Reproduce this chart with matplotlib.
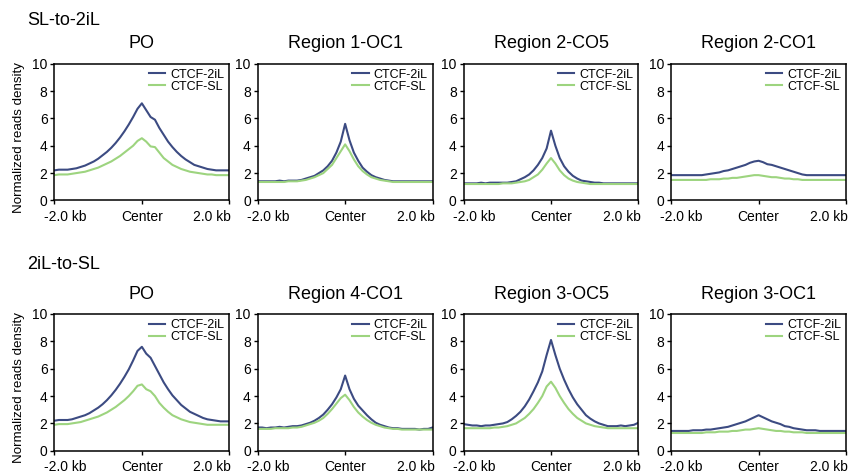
import matplotlib

matplotlib.use("agg")
import matplotlib.pyplot as plt
import numpy as np
from matplotlib.transforms import ScaledTranslation

plt.rcParams["font.family"] = ["Liberation Sans", "DejaVu Sans"]

# bin centres, kb from the CTCF summit
positions_kb = np.linspace(-2.0, 2.0, 41)

# SL-to-2iL
po_a_2il = [2.2, 2.25, 2.25, 2.25, 2.3, 2.35, 2.45, 2.55, 2.7, 2.85, 3.05, 3.3, 3.55, 3.85, 4.2, 4.6, 5.05, 5.55, 6.1, 6.7, 7.1,
            6.6, 6.1, 5.9, 5.3, 4.8, 4.3, 3.9, 3.55, 3.25, 3.0, 2.8, 2.6, 2.5, 2.4, 2.3, 2.25, 2.2, 2.2, 2.2, 2.2]
po_a_sl = [1.85, 1.9, 1.9, 1.9, 1.95, 2.0, 2.05, 2.1, 2.2, 2.3, 2.4, 2.55, 2.7, 2.85, 3.05, 3.25, 3.5, 3.75, 4.0, 4.35, 4.55,
           4.3, 3.95, 3.9, 3.5, 3.1, 2.85, 2.6, 2.45, 2.3, 2.2, 2.1, 2.05, 2.0, 1.95, 1.9, 1.9, 1.85, 1.85, 1.85, 1.85]
r1_oc1_2il = [1.4, 1.4, 1.4, 1.4, 1.4, 1.45, 1.4, 1.45, 1.45, 1.45, 1.5, 1.6, 1.7, 1.8, 2.0, 2.2, 2.5, 2.9, 3.5, 4.3, 5.6,
              4.4, 3.5, 2.9, 2.4, 2.1, 1.85, 1.7, 1.6, 1.5, 1.45, 1.4, 1.4, 1.4, 1.4, 1.4, 1.4, 1.4, 1.4, 1.4, 1.4]
r1_oc1_sl = [1.35, 1.35, 1.35, 1.35, 1.35, 1.35, 1.35, 1.4, 1.4, 1.4, 1.45, 1.5, 1.6, 1.7, 1.85, 2.0, 2.3, 2.6, 3.1, 3.6, 4.1,
             3.6, 3.0, 2.5, 2.15, 1.9, 1.7, 1.6, 1.5, 1.45, 1.4, 1.35, 1.35, 1.35, 1.35, 1.35, 1.35, 1.35, 1.35, 1.35, 1.35]
r2_co5_2il = [1.25, 1.25, 1.25, 1.25, 1.3, 1.25, 1.3, 1.3, 1.3, 1.3, 1.3, 1.35, 1.4, 1.55, 1.7, 1.9, 2.2, 2.6, 3.1, 3.8, 5.1,
              4.0, 3.1, 2.5, 2.1, 1.8, 1.6, 1.45, 1.4, 1.35, 1.3, 1.3, 1.25, 1.25, 1.25, 1.25, 1.25, 1.25, 1.25, 1.25, 1.25]
r2_co5_sl = [1.2, 1.2, 1.2, 1.2, 1.2, 1.2, 1.2, 1.2, 1.2, 1.25, 1.25, 1.25, 1.3, 1.35, 1.4, 1.5, 1.7, 1.9, 2.25, 2.7, 3.1,
             2.7, 2.2, 1.85, 1.6, 1.45, 1.35, 1.3, 1.25, 1.2, 1.2, 1.2, 1.2, 1.2, 1.2, 1.2, 1.2, 1.2, 1.2, 1.2, 1.2]
r2_co1_2il = [1.85, 1.85, 1.85, 1.85, 1.85, 1.85, 1.85, 1.85, 1.9, 1.95, 2.0, 2.05, 2.15, 2.2, 2.3, 2.4, 2.5, 2.6, 2.75, 2.85, 2.9,
              2.8, 2.65, 2.6, 2.5, 2.4, 2.3, 2.2, 2.1, 2.0, 1.9, 1.85, 1.85, 1.85, 1.85, 1.85, 1.85, 1.85, 1.85, 1.85, 1.85]
r2_co1_sl = [1.5, 1.5, 1.5, 1.5, 1.5, 1.5, 1.5, 1.5, 1.5, 1.55, 1.55, 1.55, 1.6, 1.6, 1.65, 1.65, 1.7, 1.75, 1.8, 1.85, 1.85,
             1.8, 1.75, 1.7, 1.7, 1.65, 1.6, 1.6, 1.55, 1.55, 1.5, 1.5, 1.5, 1.5, 1.5, 1.5, 1.5, 1.5, 1.5, 1.5, 1.5]

# 2iL-to-SL
po_b_2il = [2.2, 2.25, 2.25, 2.25, 2.3, 2.4, 2.5, 2.6, 2.75, 2.95, 3.15, 3.4, 3.7, 4.05, 4.45, 4.9, 5.4, 5.95, 6.6, 7.3, 7.6,
            7.1, 6.8, 6.2, 5.6, 5.0, 4.5, 4.05, 3.7, 3.35, 3.1, 2.85, 2.7, 2.55, 2.4, 2.3, 2.25, 2.2, 2.15, 2.15, 2.15]
po_b_sl = [1.9, 1.95, 1.95, 1.95, 2.0, 2.05, 2.1, 2.2, 2.3, 2.4, 2.5, 2.65, 2.8, 3.0, 3.2, 3.45, 3.7, 4.0, 4.35, 4.75, 4.85,
           4.5, 4.35, 4.0, 3.5, 3.15, 2.85, 2.6, 2.45, 2.3, 2.2, 2.1, 2.05, 2.0, 1.95, 1.9, 1.9, 1.9, 1.9, 1.9, 1.9]
r4_co1_2il = [1.7, 1.7, 1.65, 1.7, 1.7, 1.75, 1.7, 1.75, 1.8, 1.8, 1.85, 1.95, 2.05, 2.2, 2.4, 2.65, 3.0, 3.4, 3.9, 4.5, 5.5,
              4.5, 3.8, 3.3, 2.95, 2.6, 2.3, 2.05, 1.9, 1.8, 1.7, 1.65, 1.65, 1.6, 1.6, 1.6, 1.6, 1.55, 1.6, 1.6, 1.7]
r4_co1_sl = [1.6, 1.6, 1.6, 1.6, 1.65, 1.65, 1.65, 1.65, 1.7, 1.7, 1.75, 1.85, 1.95, 2.05, 2.2, 2.4, 2.7, 3.05, 3.45, 3.85, 4.1,
             3.7, 3.2, 2.8, 2.5, 2.25, 2.05, 1.9, 1.8, 1.7, 1.65, 1.6, 1.6, 1.55, 1.55, 1.55, 1.55, 1.55, 1.55, 1.55, 1.55]
r3_oc5_2il = [1.95, 1.9, 1.85, 1.85, 1.8, 1.85, 1.85, 1.9, 1.95, 2.0, 2.1, 2.3, 2.55, 2.85, 3.25, 3.75, 4.35, 5.0, 5.8, 7.0, 8.1,
              7.0, 6.0, 5.2, 4.5, 3.9, 3.4, 3.0, 2.6, 2.35, 2.15, 2.0, 1.9, 1.8, 1.8, 1.8, 1.85, 1.8, 1.85, 1.9, 2.05]
r3_oc5_sl = [1.65, 1.65, 1.65, 1.65, 1.65, 1.65, 1.65, 1.7, 1.7, 1.75, 1.8, 1.9, 2.0, 2.2, 2.4, 2.7, 3.05, 3.5, 4.0, 4.7, 5.05,
             4.6, 4.0, 3.5, 3.05, 2.7, 2.4, 2.2, 2.0, 1.9, 1.8, 1.75, 1.7, 1.65, 1.65, 1.65, 1.65, 1.65, 1.65, 1.65, 1.65]
r3_oc1_2il = [1.45, 1.45, 1.45, 1.45, 1.45, 1.5, 1.5, 1.5, 1.55, 1.55, 1.6, 1.65, 1.7, 1.75, 1.85, 1.95, 2.05, 2.15, 2.3, 2.45, 2.6,
              2.45, 2.3, 2.15, 2.05, 1.95, 1.8, 1.75, 1.65, 1.6, 1.55, 1.5, 1.5, 1.5, 1.45, 1.45, 1.45, 1.45, 1.45, 1.45, 1.45]
r3_oc1_sl = [1.3, 1.3, 1.3, 1.3, 1.3, 1.3, 1.3, 1.3, 1.35, 1.35, 1.35, 1.4, 1.4, 1.4, 1.45, 1.45, 1.5, 1.55, 1.55, 1.6, 1.65,
             1.6, 1.55, 1.5, 1.45, 1.45, 1.4, 1.4, 1.35, 1.35, 1.35, 1.3, 1.3, 1.3, 1.3, 1.3, 1.3, 1.3, 1.3, 1.3, 1.3]

row_labels = ["SL-to-2iL", "2iL-to-SL"]
panel_titles = [["PO", "Region 1-OC1", "Region 2-CO5", "Region 2-CO1"],
                ["PO", "Region 4-CO1", "Region 3-OC5", "Region 3-OC1"]]
profiles = [[(po_a_2il, po_a_sl), (r1_oc1_2il, r1_oc1_sl), (r2_co5_2il, r2_co5_sl), (r2_co1_2il, r2_co1_sl)],
            [(po_b_2il, po_b_sl), (r4_co1_2il, r4_co1_sl), (r3_oc5_2il, r3_oc5_sl), (r3_oc1_2il, r3_oc1_sl)]]

COL_2IL = "#3c4b82"
COL_SL = "#9dd47f"

fig = plt.figure(figsize=(8.65, 4.75), dpi=100)
lefts = [0.063, 0.298, 0.536, 0.776]
bottoms = [0.578, 0.051]
width, height = 0.202, 0.288

for r in range(2):
    for c in range(4):
        ax = fig.add_axes([lefts[c], bottoms[r], width, height])
        y2il, ysl = profiles[r][c]
        ax.plot(positions_kb, y2il, color=COL_2IL, lw=1.5, label="CTCF-2iL")
        ax.plot(positions_kb, ysl, color=COL_SL, lw=1.5, label="CTCF-SL")
        ax.set_xlim(-2, 2)
        ax.set_ylim(0, 10)
        ax.set_yticks([0, 2, 4, 6, 8, 10])
        ax.set_xticks([-2, 0, 2])
        ax.set_xticklabels(["-2.0 kb", "Center", "2.0 kb"])
        ax.tick_params(labelsize=10, length=3, width=1.0, pad=2)
        ax.tick_params(axis="x", pad=4)
        lbls = ax.get_xticklabels()
        lbls[0].set_transform(lbls[0].get_transform() + ScaledTranslation(7.5 / 72, 0, fig.dpi_scale_trans))
        lbls[2].set_horizontalalignment("right")
        lbls[2].set_transform(lbls[2].get_transform() + ScaledTranslation(1.5 / 72, 0, fig.dpi_scale_trans))
        for s in ax.spines.values():
            s.set_linewidth(1.1)
        ax.set_title(panel_titles[r][c], fontsize=13, pad=11)
        ax.legend(loc="upper right", frameon=False, fontsize=9, handlelength=1.3,
                  handletextpad=0.4, labelspacing=0.0, borderaxespad=0.2, borderpad=0.2)
        if c == 0:
            ax.set_ylabel("Normalized reads density", fontsize=9.6)
            ax.yaxis.set_label_coords(-0.17, 0.46)
    fig.text(0.031, [0.957, 0.444][r], row_labels[r], fontsize=13, ha="left", va="center")

fig.savefig("out.png", dpi=100)
